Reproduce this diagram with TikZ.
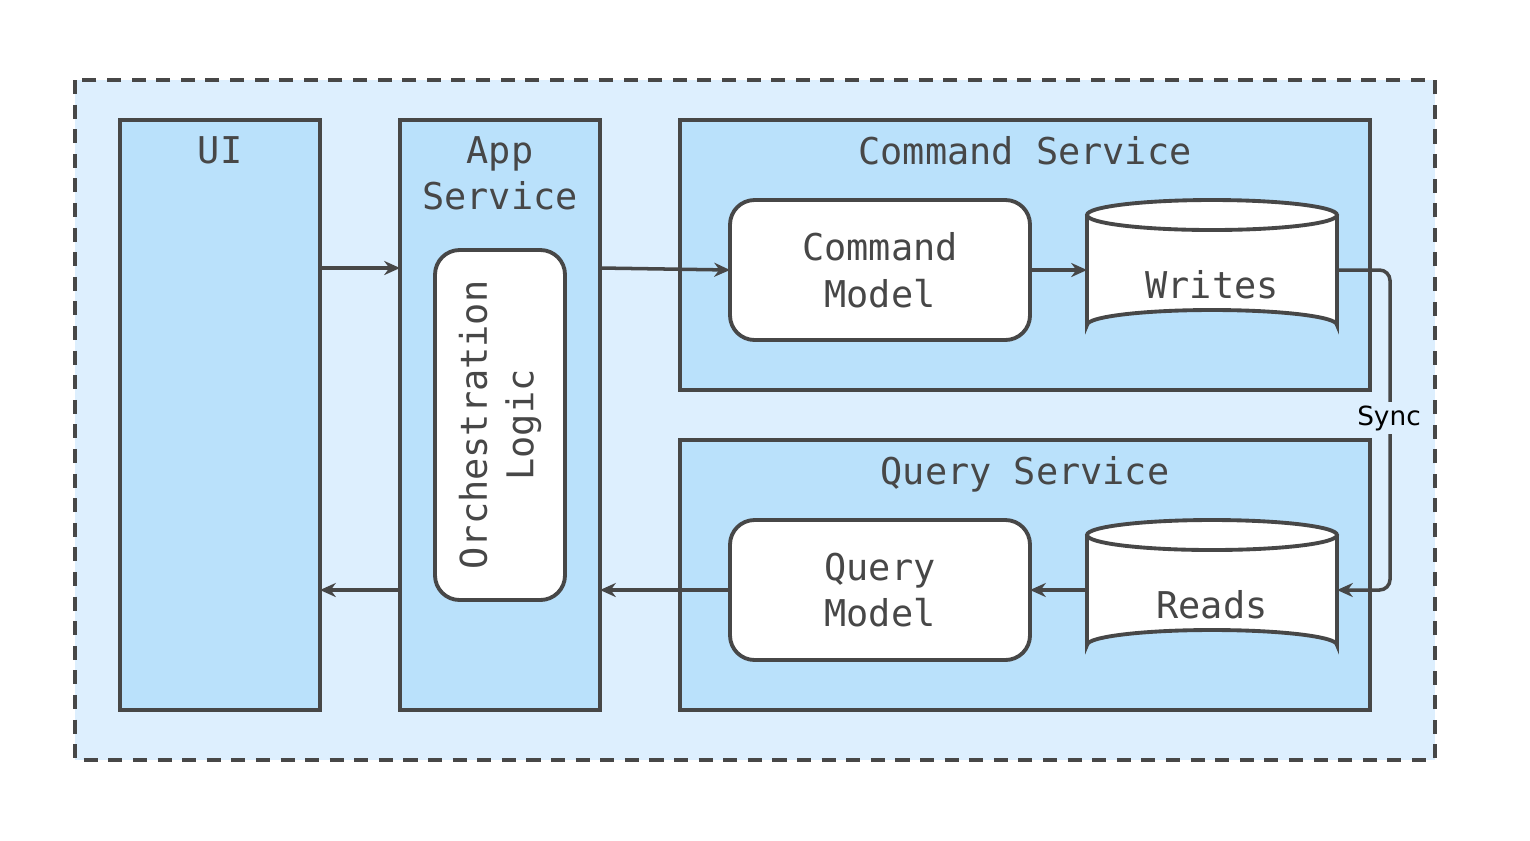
\documentclass[tikz,border=0pt]{standalone}
\usetikzlibrary{arrows.meta}
\usepackage{fontspec}
\setmonofont{DejaVu Sans Mono}
\setsansfont{DejaVu Sans}
\begin{document}
\begin{tikzpicture}[x=0.02cm,y=-0.02cm,
  ln/.style={draw=black!72,line width=2.2pt},
  box/.style={ln,fill=cblue},
  rbox/.style={ln,fill=white,rounded corners=14pt},
  lbl/.style={font=\ttfamily\fontsize{21}{26.5}\selectfont,text=black!72,align=center},
  arr/.style={draw=black!72,line width=2pt,-{Stealth[length=9pt,width=8pt]}}]
\definecolor{cblue}{HTML}{BAE1FB}
\definecolor{lblue}{HTML}{DDEFFE}
\useasboundingbox (0,0) rectangle (1530,840);
\draw[ln,fill=lblue,dashed,dash pattern=on 8pt off 6pt] (75,80) rectangle (1435,760);
\draw[box] (120,120) rectangle (320,710); \node[lbl,anchor=north] (ui) at (220,130) {UI};
\draw[box] (400,120) rectangle (600,710); \node[lbl,anchor=north] (app) at (500,130) {App\\Service};
\draw[rbox] (435,250) rectangle (565,600);
\node[lbl,rotate=90] (orch) at (500,425) {Orchestration\\Logic};
\draw[box] (680,120) rectangle (1370,390); \node[lbl,anchor=north] (cs) at (1025,130) {Command Service};
\draw[box] (680,440) rectangle (1370,710); \node[lbl,anchor=north] (qs) at (1025,450) {Query Service};
\draw[rbox] (730,200) rectangle (1030,340); \node[lbl] (cm) at (880,270) {Command\\Model};
\draw[rbox] (730,520) rectangle (1030,660); \node[lbl] (qm) at (880,590) {Query\\Model};
\foreach \y/\t/\n in {200/Writes/wr,520/Reads/rd}{
  \draw[ln,fill=white] (1087,\y+15) -- (1087,\y+125) arc[x radius=125,y radius=15,start angle=180,end angle=360] -- (1337,\y+15);
  \draw[ln,fill=white] (1212,\y+15) ellipse[x radius=125,y radius=15];
  \node[lbl] (\n) at (1212,\y+85) {\t};
}
\coordinate (uiR1) at (320,268); \coordinate (appL1) at (400,268);
\coordinate (appR1) at (600,268); \coordinate (cmL) at (730,270);
\coordinate (cmR) at (1030,270); \coordinate (wrL) at (1087,270);
\coordinate (wrR) at (1337,270); \coordinate (rdR) at (1337,590);
\coordinate (rdL) at (1087,590); \coordinate (qmR) at (1030,590);
\coordinate (qmL) at (730,590); \coordinate (appR2) at (600,590);
\coordinate (appL2) at (400,590); \coordinate (uiR2) at (320,590);
\draw[arr] (uiR1) -- (appL1);
\draw[arr] (appR1) -- (cmL);
\draw[arr] (cmR) -- (wrL);
\draw[arr,rounded corners=6pt] (wrR) -- (1390,270) -- (1390,590) -- (rdR);
\node[font=\sffamily\fontsize{15}{17}\selectfont,fill=lblue,inner sep=2pt] (sync) at (1389,418) {Sync};
\draw[arr] (rdL) -- (qmR);
\draw[arr] (qmL) -- (appR2);
\draw[arr] (appL2) -- (uiR2);
\end{tikzpicture}
\end{document}
